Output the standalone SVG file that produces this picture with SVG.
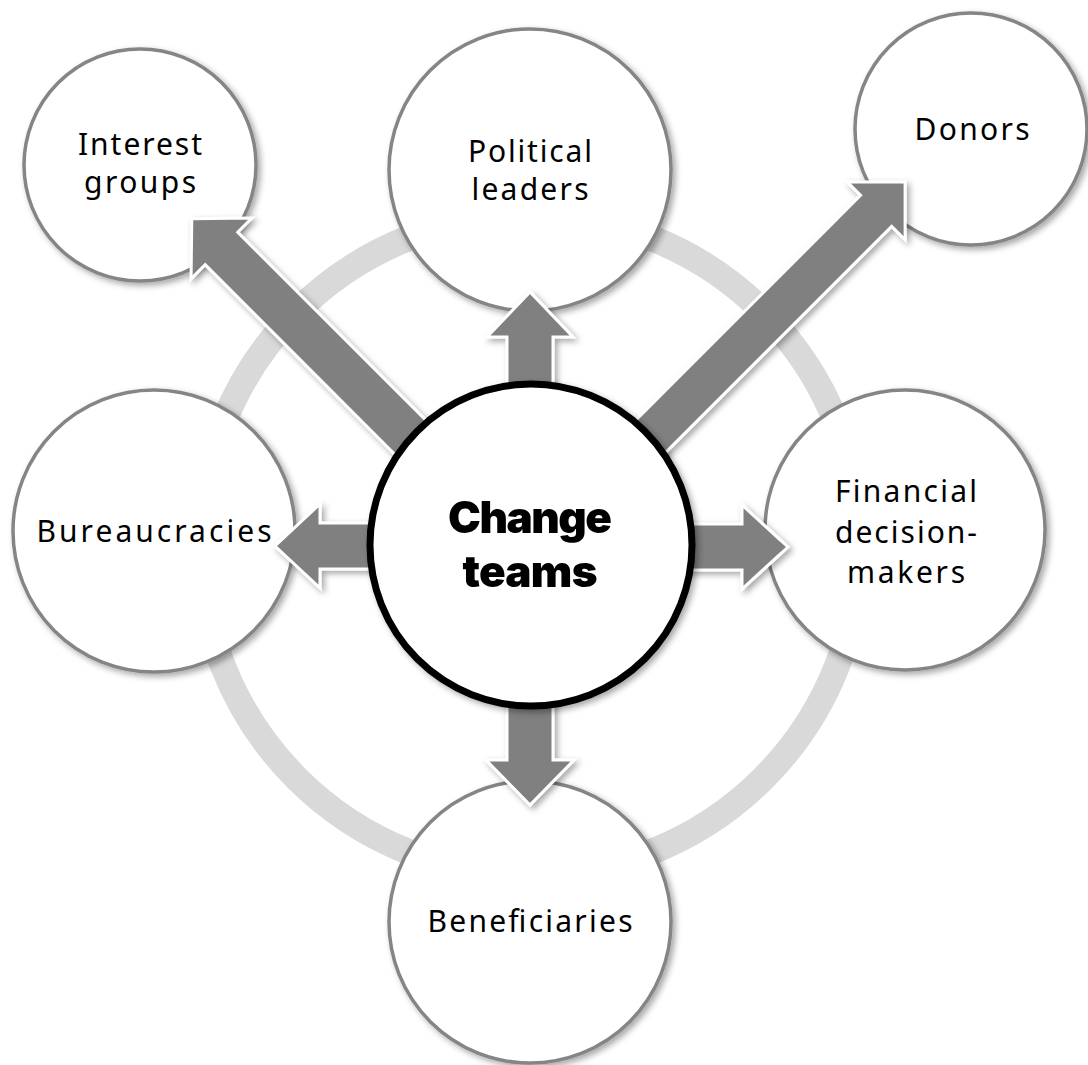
<svg xmlns="http://www.w3.org/2000/svg" width="1088" height="1065" viewBox="0 0 1088 1065">
  <style>
    .outer { fill: #ffffff; stroke: #858585; stroke-width: 3.5; }
    .center { fill: #ffffff; stroke: #000000; stroke-width: 7; }
    .ring { fill: none; stroke: #d9d9d9; stroke-width: 26; }
    .arrow { fill: #808080; stroke: #ffffff; stroke-width: 3; stroke-linejoin: miter; }
    .lbl { font-family: "Noto Sans", "Liberation Sans", Arial, sans-serif; font-size: 30px; fill: #000000; text-anchor: middle; }
    .title { font-family: Inter, "Liberation Sans", Arial, sans-serif; font-weight: 900; font-size: 44px; fill: #000000; text-anchor: middle; }
  </style>
  <defs>
    <filter id="shadow" x="-20%" y="-20%" width="140%" height="140%">
      <feDropShadow dx="3" dy="3" stdDeviation="3" flood-color="#000000" flood-opacity="0.35"/>
    </filter>
  </defs>
  <rect width="1088" height="1065" fill="#ffffff"/>

  <circle class="ring" cx="530" cy="545" r="330"/>

  <g id="node-interest-groups">
    <circle class="outer" cx="140" cy="165" r="116" filter="url(#shadow)"/>
    <text class="lbl" x="140" y="155" textLength="124" lengthAdjust="spacing">Interest</text>
    <text class="lbl" x="140" y="193" textLength="112" lengthAdjust="spacing">groups</text>
  </g>
  <g id="node-political-leaders">
    <circle class="outer" cx="530" cy="170" r="141" filter="url(#shadow)"/>
    <text class="lbl" x="530" y="162" textLength="124" lengthAdjust="spacing">Political</text>
    <text class="lbl" x="530" y="200" textLength="117" lengthAdjust="spacing">leaders</text>
  </g>
  <g id="node-donors">
    <circle class="outer" cx="971" cy="129" r="116" filter="url(#shadow)"/>
    <text class="lbl" x="972" y="140" textLength="115" lengthAdjust="spacing">Donors</text>
  </g>
  <g id="node-bureaucracies">
    <circle class="outer" cx="154" cy="531" r="141" filter="url(#shadow)"/>
    <text class="lbl" x="154" y="542" textLength="235" lengthAdjust="spacing">Bureaucracies</text>
  </g>
  <g id="node-financial-decision-makers">
    <circle class="outer" cx="905" cy="530" r="140" filter="url(#shadow)"/>
    <text class="lbl" x="906" y="502" textLength="142" lengthAdjust="spacing">Financial</text>
    <text class="lbl" x="906" y="543" textLength="142" lengthAdjust="spacing">decision-</text>
    <text class="lbl" x="906" y="583" textLength="118" lengthAdjust="spacing">makers</text>
  </g>
  <g id="node-beneficiaries">
    <circle class="outer" cx="530" cy="922" r="141" filter="url(#shadow)"/>
    <text class="lbl" x="530" y="932" textLength="205" lengthAdjust="spacing">Beneficiaries</text>
  </g>

  <g id="connectors" filter="url(#shadow)">
    <path class="arrow" transform="translate(530,545) rotate(-90)" d="M0,-23 L208,-23 L208,-43 L253,0 L208,43 L208,23 L0,23 Z"/>
    <path class="arrow" transform="translate(530,545) rotate(90)" d="M0,-23 L215,-23 L215,-44 L260,0 L215,44 L215,23 L0,23 Z"/>
    <path class="arrow" transform="translate(530,546) rotate(180)" d="M0,-23 L210,-23 L210,-42 L255,0 L210,42 L210,23 L0,23 Z"/>
    <path class="arrow" transform="translate(530,547) rotate(0)" d="M0,-23 L212,-23 L212,-42 L258,0 L212,42 L212,23 L0,23 Z"/>
    <path class="arrow" transform="translate(522,549) rotate(-135)" d="M0,-23 L425,-23 L425,-43 L467,0 L425,43 L425,23 L0,23 Z"/>
    <path class="arrow" transform="translate(536,551) rotate(-45)" d="M0,-22 L481,-22 L481,-41 L522,0 L481,41 L481,22 L0,22 Z"/>
  </g>

  <g id="node-change-teams">
    <circle class="center" cx="531" cy="545" r="161" filter="url(#shadow)"/>
    <text class="title" x="530" y="533" textLength="164" lengthAdjust="spacing">Change</text>
    <text class="title" x="530" y="587" textLength="135" lengthAdjust="spacing">teams</text>
  </g>
</svg>
